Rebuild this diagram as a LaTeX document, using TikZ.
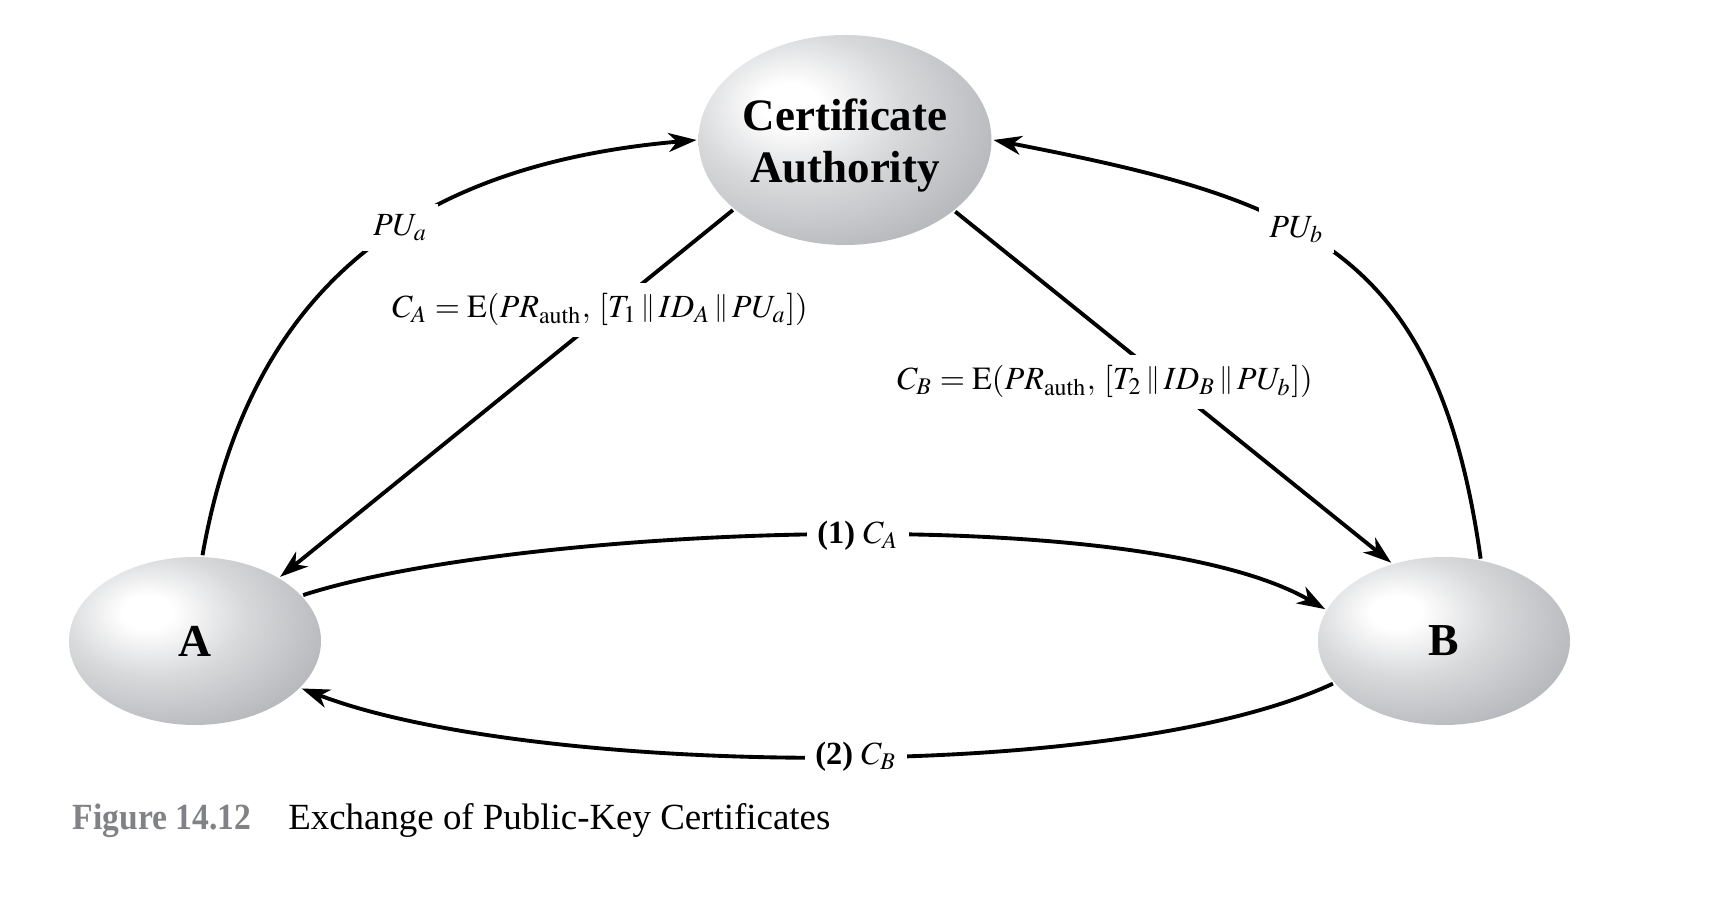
\documentclass[tikz,border=0pt]{standalone}
\usepackage{amsmath}
\usepackage{graphicx}
\usepackage{mathptmx}
\usepackage{fontspec}
\setmainfont{Liberation Serif}
\usepackage{tikz}
\usetikzlibrary{shapes.geometric}
\usetikzlibrary{arrows.meta}
\definecolor{orbedge}{RGB}{164,166,169}
\definecolor{orbmid}{RGB}{184,186,189}
\definecolor{orblight}{RGB}{216,217,219}
\definecolor{capgray}{RGB}{128,130,133}
\pgfdeclareradialshading{orb}{\pgfpoint{-10bp}{9bp}}{%
  color(0bp)=(white); color(5bp)=(white); color(18bp)=(orblight);
  color(33bp)=(orbmid); color(48bp)=(orbedge); color(100bp)=(orbedge)}
\newcommand{\conc}{\mathord{\,\raisebox{0.15ex}{\footnotesize$\|$}\,}}
\tikzstyle{exchange}=[line width=1.1pt, >={Stealth[length=8pt,width=5.4pt,inset=2.4pt]}]
\tikzstyle{user}=[ellipse, shade, shading=orb, inner sep=0pt, minimum width=2.52cm, minimum height=1.68cm, font=\fontsize{13}{15}\selectfont\bfseries]
\tikzstyle{ca}=[user, minimum width=2.93cm, minimum height=2.10cm, align=center, font=\fontsize{12.8}{14.8}\selectfont\bfseries]
\tikzstyle{edge}=[->]
\tikzstyle{lbl}=[fill=white, inner sep=3pt, font=\fontsize{9.2}{11}\selectfont]
\tikzstyle{caption}=[anchor=base west, inner sep=0pt, font=\fontsize{10.5}{12}\selectfont]

\begin{document}
\begin{tikzpicture}[exchange]
	%The frame
	\useasboundingbox (0,0) rectangle (17.16,9.12);

	%The authority and the two users
	\draw (8.45,7.72) node[ca] (ca) {\rule{0pt}{12pt}Certificate\\Authority};
	\draw (1.95,2.71) node[user] (a) {A};
	\draw (14.44,2.71) node[user] (b) {B};

	%Public keys handed to the authority
	\draw[edge] (a.85) to[out=80, in=185, looseness=1.1] node[lbl, pos=0.57] {$PU_a$} (ca.180);
	\draw[edge] (b.66) to[out=98, in=-11, looseness=1.25] node[lbl, pos=0.58] {$PU_b$} (ca.0);

	%Certificates issued by the authority
	\draw[edge] (ca.212) -- (a.37);
	\draw[edge] (ca.327) -- (b.124);
	\draw (6.00,5.94) node[lbl, anchor=base] {$C_A = \mathrm{E}(PR_{\mathrm{auth}}{,}\ [T_1 \conc ID_A \conc PU_a])$};
	\draw (11.05,5.22) node[lbl, anchor=base] {$C_B = \mathrm{E}(PR_{\mathrm{auth}}{,}\ [T_2 \conc ID_B \conc PU_b])$};

	%Certificates exchanged between the users
	\draw[edge] (a.23) to[out=18, in=150, looseness=0.55] node[lbl, pos=0.53] {\textbf{(1)} $C_A$} (b.165);
	\draw[edge] (b.201) to[out=205, in=-21, looseness=0.6] node[lbl, pos=0.47] {\textbf{(2)} $C_B$} (a.336);

	%The caption
	\draw (0.71,0.82) node[caption] {\textcolor{capgray}{\bfseries\scalebox{0.91}[1]{Figure 14.12}}\quad Exchange of Public-Key Certificates};
\end{tikzpicture}
\end{document}
